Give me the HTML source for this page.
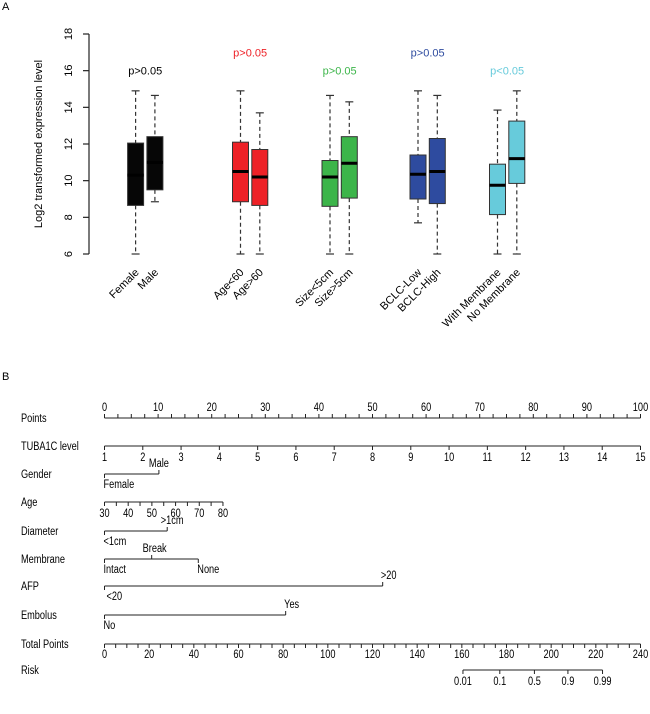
<!DOCTYPE html>
<html><head><meta charset="utf-8"><style>
html,body{margin:0;padding:0;background:#fff;}
svg{display:block;font-family:"Liberation Sans",Arial,sans-serif;}
</style></head><body>
<svg id="fig" width="650" height="714" viewBox="0 0 650 714" xmlns="http://www.w3.org/2000/svg">
<text x="2" y="10" font-size="11">A</text>
<text x="2" y="380" font-size="11">B</text>
<g id="pa"></g>
<g id="pb"></g>
</svg>
<script>
const NS="http://www.w3.org/2000/svg";
const categories=["Female","Male","Age<60","Age>60","Size<5cm","Size>5cm","BCLC-Low","BCLC-High","With Membrane","No Membrane"];
const mins=[6,8.85,6,6,6,6,7.7,6,6,6];
const q1s=[8.65,9.5,8.85,8.65,8.6,9.05,9.0,8.75,8.15,9.85];
const medians=[10.3,11.0,10.5,10.2,10.2,10.95,10.35,10.5,9.75,11.2];
const q3s=[12.05,12.4,12.1,11.7,11.1,12.4,11.4,12.3,10.9,13.25];
const maxs=[14.9,14.65,14.9,13.7,14.65,14.3,14.9,14.65,13.85,14.9];
const groupColors=["#060606","#ee2127","#3cb54a","#2e4b9f","#67cbdb"];
const pLabels=["p>0.05","p>0.05","p>0.05","p>0.05","p<0.05"];
const pLabelValues=[16,17,16,17,16];
const yTicks=[6,8,10,12,14,16,18];

function el(tag,attrs,parent){const e=document.createElementNS(NS,tag);for(const k in attrs)e.setAttribute(k,attrs[k]);parent.appendChild(e);return e;}
const pa=document.getElementById('pa');
const yS=v=>254-(v-6)*(220/12);
const xPos=i=>{const g=Math.floor(i/2),s=i%2;const gx=[135.6,240.5,330,418,497.5][g];return gx+s*19.3;};
let a=el('line',{x1:89,y1:yS(6),x2:89,y2:yS(18),stroke:'#222','stroke-width':1.2},pa);

yTicks.forEach(t=>{
 const tk=el('line',{x1:83,y1:yS(t),x2:89,y2:yS(t),stroke:'#222','stroke-width':1.2},pa);
 
 const tx=el('text',{x:72,y:yS(t),'font-size':11,'text-anchor':'middle',transform:`rotate(-90 72 ${yS(t)})`},pa);
 tx.textContent=t;
});
const yt=el('text',{x:42,y:144,'font-size':11,'text-anchor':'middle',transform:'rotate(-90 42 144)'},pa);
yt.textContent='Log2 transformed expression level';

categories.forEach((c,i)=>{
 const x=xPos(i),col=groupColors[Math.floor(i/2)],hw=8;
 const g=el('g',{},pa);
 el('line',{x1:x,y1:yS(maxs[i]),x2:x,y2:yS(q3s[i]),stroke:'#333','stroke-dasharray':'4,3','stroke-width':1.2},g);
 el('line',{x1:x,y1:yS(q1s[i]),x2:x,y2:yS(mins[i]),stroke:'#333','stroke-dasharray':'4,3','stroke-width':1.2},g);
 el('line',{x1:x-4,y1:yS(maxs[i]),x2:x+4,y2:yS(maxs[i]),stroke:'#333','stroke-width':1.2},g);
 el('line',{x1:x-4,y1:yS(mins[i]),x2:x+4,y2:yS(mins[i]),stroke:'#333','stroke-width':1.2},g);
 el('rect',{x:x-hw,y:yS(q3s[i]),width:2*hw,height:yS(q1s[i])-yS(q3s[i]),fill:col,stroke:'#333','stroke-width':1},g);
 el('line',{x1:x-hw,y1:yS(medians[i]),x2:x+hw,y2:yS(medians[i]),stroke:'#000','stroke-width':3},g);
 const lx=x+4,ly=273;
 const t=el('text',{x:lx,y:ly,'font-size':11,'text-anchor':'end',transform:`rotate(-45 ${lx} ${ly})`},pa);
 t.textContent=c;
});
pLabels.forEach((p,g)=>{
 const x=(xPos(2*g)+xPos(2*g+1))/2;
 const t=el('text',{x:x,y:yS(pLabelValues[g])+4,'font-size':11,'text-anchor':'middle',fill:g==0?'#000':groupColors[g]},pa);
 t.textContent=p;
});

// Nomogram
const pb=document.getElementById('pb');
const X0=104.5,X1=640.5;
const ptX=p=>X0+(p/100)*(X1-X0);
const totX=t=>X0+(t/240)*(X1-X0);
const rowNames=["Points","TUBA1C level","Gender","Age","Diameter","Membrane","AFP","Embolus","Total Points","Risk"];
const rowY=[418,446,474,502,531,559,586,615,644,670];
const tubaLevels=[1,2,3,4,5,6,7,8,9,10,11,12,13,14,15];
const ageTicks=[30,40,50,60,70,80];
const agePointsAt80=22.1;
const genderPoints=[0,10.15];
const diameterPoints=[0,11.7];
const membranePoints=[0,8.8,17.5];
const afpPoints=[0,51.9];
const embolusPoints=[0,33.8];
const riskLabels=["0.01","0.1","0.5","0.9","0.99"];
const riskTotals=[160.5,177,192.5,207.5,223];
const S='#222';
function line(x1,y1,x2,y2,name){const l=el('line',{x1,y1,x2,y2,stroke:S,'stroke-width':1},pb);return l;}
function txt(x,y,s,name,anchor){
 const t=el('text',{x,y,'font-size':11.5,'text-anchor':anchor||'middle'},pb);
 t.textContent=s;
 
 
 const L=t.getComputedTextLength();
 if(L>0){t.setAttribute('textLength',(L*0.8).toFixed(1));t.setAttribute('lengthAdjust','spacingAndGlyphs');}
 return t;}
rowNames.forEach((n,i)=>txt(21,rowY[i]+4,n,'row-label','start'));
let y=rowY[0];line(ptX(0),y,ptX(100),y,'points-axis');
for(let p=0;p<=100;p+=2.5)line(ptX(p),y,ptX(p),y-4,'points-tick');
for(let p=0;p<=100;p+=10)txt(ptX(p),y-7,p,'points-tick-label');
y=rowY[1];line(ptX(0),y,ptX(100),y,'tuba1c-axis');
tubaLevels.forEach((v,i)=>{const x=ptX((v-1)/14*100);line(x,y,x,y+4,'tuba1c-tick');txt(x,y+15,v,'tuba1c-tick-label');});
y=rowY[2];line(ptX(genderPoints[0]),y,ptX(genderPoints[1]),y,'gender-axis');
line(ptX(genderPoints[0]),y,ptX(genderPoints[0]),y+4,'gender-tick');line(ptX(genderPoints[1]),y,ptX(genderPoints[1]),y-4,'gender-tick');
txt(ptX(genderPoints[0])-1,y+14,'Female','gender-label','start');txt(ptX(genderPoints[1]),y-7,'Male','gender-label');
y=rowY[3];line(ptX(0),y,ptX(agePointsAt80),y,'age-axis');
for(let a2=30;a2<=80;a2+=5){const x=ptX((a2-30)/50*agePointsAt80);line(x,y,x,y+4,'age-tick');}
ageTicks.forEach(v=>txt(ptX((v-30)/50*agePointsAt80),y+15,v,'age-tick-label'));
y=rowY[4];line(ptX(0),y,ptX(diameterPoints[1]),y,'diameter-axis');
line(ptX(0),y,ptX(0),y+4,'diameter-tick');line(ptX(diameterPoints[1]),y,ptX(diameterPoints[1]),y-4,'diameter-tick');
txt(ptX(0)-1,y+14,'<1cm','diameter-label','start');txt(ptX(diameterPoints[1])+5,y-7,'>1cm','diameter-label');
y=rowY[5];line(ptX(0),y,ptX(membranePoints[2]),y,'membrane-axis');
line(ptX(0),y,ptX(0),y+4,'membrane-tick');line(ptX(membranePoints[1]),y,ptX(membranePoints[1]),y-4,'membrane-tick');line(ptX(membranePoints[2]),y,ptX(membranePoints[2]),y+4,'membrane-tick');
txt(ptX(0)-1,y+14,'Intact','membrane-label','start');txt(ptX(membranePoints[1])+3,y-7,'Break','membrane-label');txt(ptX(membranePoints[2])+10,y+14,'None','membrane-label');
y=rowY[6];line(ptX(0),y,ptX(afpPoints[1]),y,'afp-axis');
line(ptX(0),y,ptX(0),y+4,'afp-tick');line(ptX(afpPoints[1]),y,ptX(afpPoints[1]),y-4,'afp-tick');
txt(ptX(0)+2,y+14,'<20','afp-label','start');txt(ptX(afpPoints[1])+6,y-7,'>20','afp-label');
y=rowY[7];line(ptX(0),y,ptX(embolusPoints[1]),y,'embolus-axis');
line(ptX(0),y,ptX(0),y+4,'embolus-tick');line(ptX(embolusPoints[1]),y,ptX(embolusPoints[1]),y-4,'embolus-tick');
txt(ptX(0)-1,y+14,'No','embolus-label','start');txt(ptX(embolusPoints[1])+6,y-7,'Yes','embolus-label');
y=rowY[8];line(totX(0),y,totX(240),y,'total-points-axis');
for(let t=0;t<=240;t+=5)line(totX(t),y,totX(t),y+4,'total-points-tick');
for(let t=0;t<=240;t+=20)txt(totX(t),y+14,t,'total-points-tick-label');
y=rowY[9];line(totX(riskTotals[0]),y,totX(riskTotals[4]),y,'risk-axis');
riskLabels.forEach((r,i)=>{const x=totX(riskTotals[i]);line(x,y,x,y+4,'risk-tick');txt(x,y+15,r,'risk-tick-label');});
</script>
</body></html>
